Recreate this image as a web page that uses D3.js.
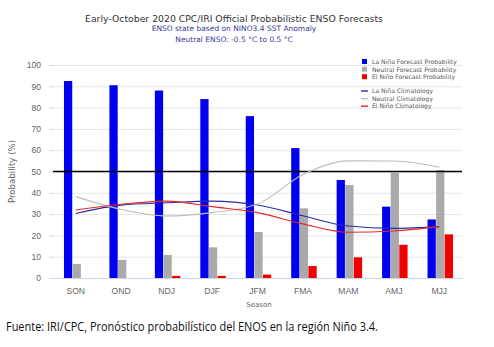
<!DOCTYPE html>
<html>
<head>
<meta charset="utf-8">
<script src="https://cdn.jsdelivr.net/npm/d3@7"></script>
<style>
  body { margin: 0; background: #fff; }
  svg { display: block; font-family: "DejaVu Sans", Verdana, sans-serif; }
  .grid line { stroke: #e6e6e6; }
  .grid path { display: none; }
  .yaxis path { display: none; }
  .yaxis line { stroke: #ccd6eb; }
  .yaxis text { fill: #666; font-size: 8.6px; }
  .xaxis path { stroke: #ccd6eb; }
  .xaxis line { display: none; }
  .xaxis text { fill: #666; font-size: 8.6px; }
  .legend text { fill: #555; font-size: 6.1px; }
</style>
</head>
<body>
<div id="chart"></div>
<script>
// seasons (3-month running)
const seasons = ["SON", "OND", "NDJ", "DJF", "JFM", "FMA", "MAM", "AMJ", "MJJ"];

// forecast probabilities (%)
const laNina  = [92.5, 90.5, 88, 84, 76, 61, 46, 33.5, 27.5];
const neutral = [6.6, 8.5, 10.8, 14.4, 21.6, 32.7, 43.7, 49.4, 50.7];
const elNino  = [0, 0, 1, 1, 1.6, 5.6, 9.7, 15.6, 20.5];

// climatological probabilities (%)
const laNinaClim  = [30.3, 34.2, 35.3, 36.1, 34.3, 29.2, 24.4, 23.3, 24.1];
const neutralClim = [38.2, 32.2, 29.1, 30.7, 34.7, 48.6, 55, 54.9, 52];
const elNinoClim  = [31.9, 34.6, 36.1, 33.5, 30.7, 25.4, 21.5, 22.1, 24.1];

const yTicks = [0, 10, 20, 30, 40, 50, 60, 70, 80, 90, 100];

const barSeries = [
  { name: "La Niña Forecast Probability", values: laNina, color: "#0000f0" },
  { name: "Neutral Forecast Probability", values: neutral, color: "#aaaaaa" },
  { name: "El Niño Forecast Probability", values: elNino, color: "#f00000" }
];
const lineSeries = [
  { name: "La Niña Climatology", values: laNinaClim, color: "#2b2ba8" },
  { name: "Neutral Climatology", values: neutralClim, color: "#bdbdbd" },
  { name: "El Niño Climatology", values: elNinoClim, color: "#e02a2a" }
];

const width = 494, height = 347;
const plot = { left: 53, right: 462, top: 65, bottom: 278 };

const svg = d3.select("#chart").append("svg")
  .attr("width", width)
  .attr("height", height);

const xScale = d3.scaleBand()
  .domain(seasons)
  .range([plot.left, plot.right]);

const yScale = d3.scaleLinear()
  .domain([0, 100])
  .range([plot.bottom, plot.top]);

const groupWidth = 25.5;
const xInner = d3.scaleBand()
  .domain(barSeries.map(s => s.name))
  .range([0, groupWidth])
  .paddingInner(0.04);

// gridlines
svg.append("g")
  .attr("class", "grid")
  .attr("transform", `translate(${plot.left},0)`)
  .call(d3.axisLeft(yScale).tickValues(yTicks).tickFormat("").tickSize(-(plot.right - plot.left)));

// y axis
svg.append("g")
  .attr("class", "yaxis")
  .attr("transform", `translate(${plot.left},0)`)
  .call(d3.axisLeft(yScale).tickValues(yTicks).tickSize(4).tickPadding(8));

// bars
const groups = svg.append("g")
  .selectAll("g")
  .data(seasons)
  .join("g")
  .attr("transform", d => `translate(${xScale(d) + (xScale.bandwidth() - groupWidth) / 2 + 1},0)`);

groups.selectAll("rect")
  .data((d, i) => barSeries.map(s => ({ series: s, value: s.values[i] })))
  .join("rect")
  .attr("x", d => xInner(d.series.name))
  .attr("width", xInner.bandwidth())
  .attr("y", d => yScale(d.value))
  .attr("height", d => yScale(0) - yScale(d.value))
  .attr("fill", d => d.series.color);

// 50% reference line
svg.append("line")
  .attr("x1", plot.left).attr("x2", plot.right)
  .attr("y1", yScale(50)).attr("y2", yScale(50))
  .attr("stroke", "#000")
  .attr("stroke-width", 1.6);

// climatology curves
const line = d3.line()
  .x((d, i) => xScale(seasons[i]) + xScale.bandwidth() / 2)
  .y(d => yScale(d))
  .curve(d3.curveMonotoneX);

svg.append("g")
  .selectAll("path")
  .data(lineSeries)
  .join("path")
  .attr("d", d => line(d.values))
  .attr("fill", "none")
  .attr("stroke", d => d.color)
  .attr("stroke-width", 1.1);

// x axis
svg.append("g")
  .attr("class", "xaxis")
  .attr("transform", `translate(0,${plot.bottom})`)
  .call(d3.axisBottom(xScale).tickSizeOuter(0).tickPadding(4));

// titles
svg.append("text")
  .attr("x", 234).attr("y", 22)
  .attr("text-anchor", "middle")
  .attr("fill", "#333")
  .style("font-size", "9.3px")
  .text("Early-October 2020 CPC/IRI Official Probabilistic ENSO Forecasts");

svg.append("text")
  .attr("x", 234).attr("y", 31)
  .attr("text-anchor", "middle")
  .attr("fill", "#3b3b96")
  .style("font-size", "7.5px")
  .text("ENSO state based on NINO3.4 SST Anomaly");

svg.append("text")
  .attr("x", 234).attr("y", 42)
  .attr("text-anchor", "middle")
  .attr("fill", "#3b3b96")
  .style("font-size", "7.5px")
  .text("Neutral ENSO: -0.5 °C to 0.5 °C");

svg.append("text")
  .attr("transform", `translate(15,${yScale(50)}) rotate(-90)`)
  .attr("text-anchor", "middle")
  .attr("fill", "#666")
  .style("font-size", "8.6px")
  .text("Probability (%)");

svg.append("text")
  .attr("x", 259).attr("y", 307)
  .attr("text-anchor", "middle")
  .attr("fill", "#666")
  .style("font-size", "7px")
  .text("Season");

// legend
const legend = svg.append("g").attr("class", "legend");

legend.selectAll("rect")
  .data(barSeries)
  .join("rect")
  .attr("x", 362).attr("y", (d, i) => 59 + i * 7.6)
  .attr("width", 5).attr("height", 5)
  .attr("fill", d => d.color);

legend.selectAll("text.bar")
  .data(barSeries)
  .join("text")
  .attr("class", "bar")
  .attr("x", 372).attr("y", (d, i) => 64 + i * 7.6)
  .text(d => d.name);

legend.selectAll("line")
  .data(lineSeries)
  .join("line")
  .attr("x1", 361).attr("x2", 368)
  .attr("y1", (d, i) => 91 + i * 7.6).attr("y2", (d, i) => 91 + i * 7.6)
  .attr("stroke", d => d.color)
  .attr("stroke-width", 1.4);

legend.selectAll("text.clim")
  .data(lineSeries)
  .join("text")
  .attr("class", "clim")
  .attr("x", 372).attr("y", (d, i) => 93.2 + i * 7.6)
  .text(d => d.name);

// source note
svg.append("text")
  .attr("x", 6).attr("y", 331)
  .attr("fill", "#111")
  .style("font-family", "'Open Sans', sans-serif")
  .style("font-size", "12.5px")
  .attr("textLength", 372)
  .attr("lengthAdjust", "spacingAndGlyphs")
  .text("Fuente: IRI/CPC, Pronóstico probabilístico del ENOS en la región Niño 3.4.");
</script>
</body>
</html>
